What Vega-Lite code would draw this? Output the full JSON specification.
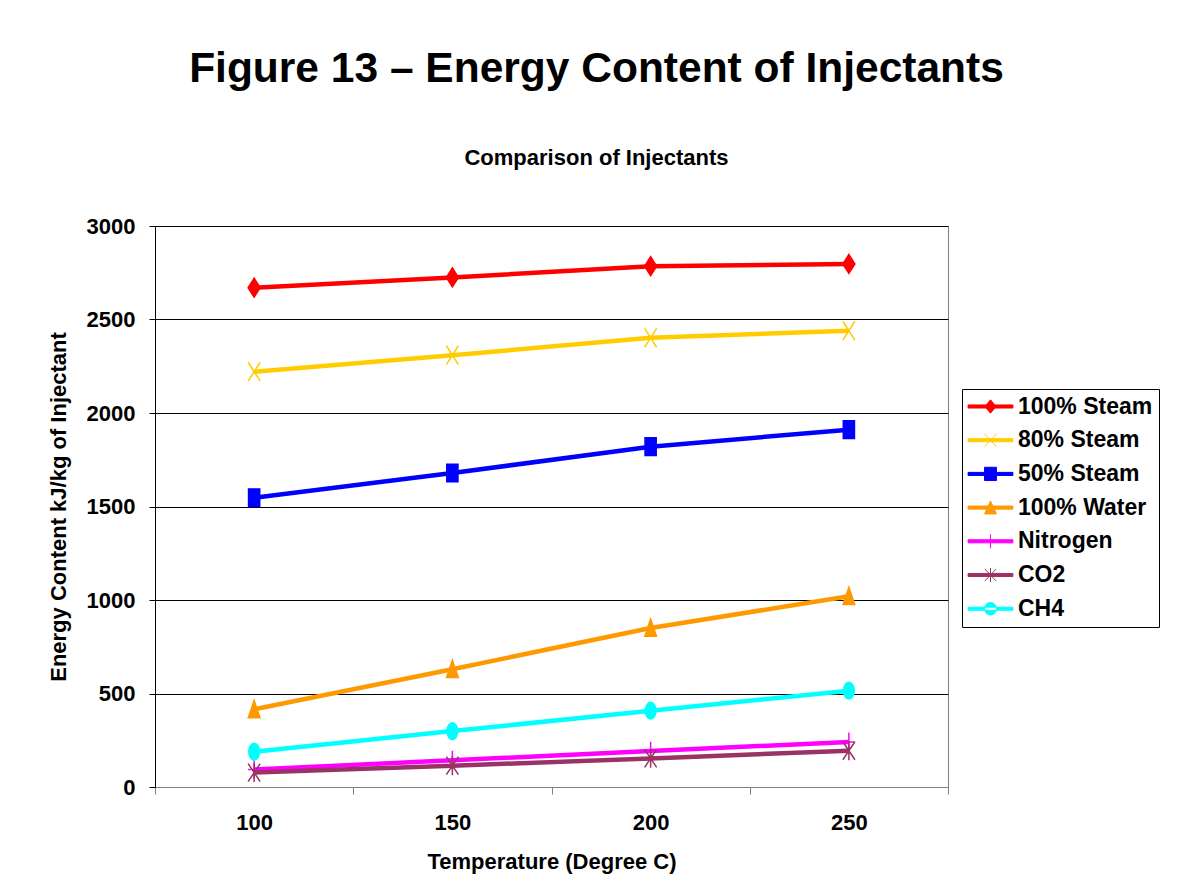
{
  "$schema": "https://vega.github.io/schema/vega-lite/v6.json",
  "width": 793,
  "height": 561,
  "autosize": {"type": "none"},
  "padding": {"left": 155, "top": 226, "right": 230, "bottom": 109},
  "background": "white",
  "title": {
    "text": "Figure 13 – Energy Content of Injectants",
    "subtitle": "Comparison of Injectants",
    "anchor": "middle",
    "frame": "group",
    "dx": 45,
    "offset": 46,
    "subtitlePadding": 58,
    "font": "Liberation Sans",
    "fontSize": 42.5,
    "fontWeight": "bold",
    "color": "black",
    "subtitleFont": "Liberation Sans",
    "subtitleFontSize": 22,
    "subtitleFontWeight": "bold",
    "subtitleColor": "black"
  },
  "config": {
    "view": {"stroke": "#808080", "strokeWidth": 1},
    "font": "Liberation Sans",
    "axis": {
      "labelFont": "Liberation Sans",
      "labelFontSize": 22,
      "labelFontWeight": "bold",
      "labelColor": "black",
      "titleFont": "Liberation Sans",
      "titleFontSize": 22,
      "titleFontWeight": "bold",
      "titleColor": "black"
    }
  },
  "data": {
    "values": [
      {"temp": 100, "series": "100% Steam", "value": 2670},
      {"temp": 150, "series": "100% Steam", "value": 2725},
      {"temp": 200, "series": "100% Steam", "value": 2785},
      {"temp": 250, "series": "100% Steam", "value": 2797},
      {"temp": 100, "series": "80% Steam", "value": 2221},
      {"temp": 150, "series": "80% Steam", "value": 2309},
      {"temp": 200, "series": "80% Steam", "value": 2402},
      {"temp": 250, "series": "80% Steam", "value": 2440},
      {"temp": 100, "series": "50% Steam", "value": 1547},
      {"temp": 150, "series": "50% Steam", "value": 1679},
      {"temp": 200, "series": "50% Steam", "value": 1820},
      {"temp": 250, "series": "50% Steam", "value": 1911},
      {"temp": 100, "series": "100% Water", "value": 415},
      {"temp": 150, "series": "100% Water", "value": 630},
      {"temp": 200, "series": "100% Water", "value": 850},
      {"temp": 250, "series": "100% Water", "value": 1020},
      {"temp": 100, "series": "Nitrogen", "value": 93},
      {"temp": 150, "series": "Nitrogen", "value": 143},
      {"temp": 200, "series": "Nitrogen", "value": 192},
      {"temp": 250, "series": "Nitrogen", "value": 241},
      {"temp": 100, "series": "CO2", "value": 77},
      {"temp": 150, "series": "CO2", "value": 114},
      {"temp": 200, "series": "CO2", "value": 153},
      {"temp": 250, "series": "CO2", "value": 194},
      {"temp": 100, "series": "CH4", "value": 189},
      {"temp": 150, "series": "CH4", "value": 299},
      {"temp": 200, "series": "CH4", "value": 408},
      {"temp": 250, "series": "CH4", "value": 515}
    ]
  },
  "encoding": {
    "x": {
      "field": "temp",
      "type": "ordinal",
      "title": "Temperature (Degree C)",
      "scale": {"type": "band", "paddingInner": 0, "paddingOuter": 0},
      "axis": {
        "labelAngle": 0,
        "tickBand": "extent",
        "tickSize": 7,
        "tickColor": "#808080",
        "domainColor": "#808080",
        "labelPadding": 18,
        "titlePadding": 18,
        "grid": false
      }
    },
    "y": {
      "field": "value",
      "type": "quantitative",
      "title": "Energy Content kJ/kg of Injectant",
      "scale": {"domain": [0, 3000], "nice": false},
      "axis": {
        "values": [0, 500, 1000, 1500, 2000, 2500, 3000],
        "format": "d",
        "tickSize": 6,
        "tickColor": "black",
        "domainColor": "black",
        "gridColor": "black",
        "gridOpacity": 1,
        "labelPadding": 14,
        "titlePadding": 16
      }
    },
    "color": {
      "field": "series",
      "type": "nominal",
      "scale": {
        "domain": ["100% Steam", "80% Steam", "50% Steam", "100% Water", "Nitrogen", "CO2", "CH4"],
        "range": ["#FF0000", "#FFCC00", "#0000FF", "#FF9900", "#FF00FF", "#993366", "#00FFFF"]
      },
      "legend": {
        "title": null,
        "orient": "none",
        "legendX": 807,
        "legendY": 163,
        "direction": "vertical",
        "strokeColor": "black",
        "fillColor": "white",
        "padding": 6,
        "symbolSize": 196,
        "symbolStrokeWidth": 1,
        "symbolOffset": 11,
        "labelOffset": 16,
        "labelFont": "Liberation Sans",
        "labelFontSize": 23,
        "labelFontWeight": "bold",
        "labelColor": "black",
        "rowPadding": 9.7,
        "labelLimit": 300,
        "encode": {
          "symbols": {
            "update": {
              "shape": {"signal": "'M-3.2,-0.22H3.2V0.22H-3.2Z' + (datum.value === '100% Steam' ? 'M0,-0.95L0.8,0L0,0.95L-0.8,0Z' : datum.value === '80% Steam' ? 'M-0.85,-0.9L0.85,0.9M0.85,-0.9L-0.85,0.9' : datum.value === '50% Steam' ? 'M-0.85,-0.95H0.85V0.95H-0.85Z' : datum.value === '100% Water' ? 'M0,-0.95L0.85,0.9H-0.85Z' : datum.value === 'Nitrogen' ? 'M0,-1V1' : datum.value === 'CO2' ? 'M-0.8,-0.85L0.8,0.85M0.8,-0.85L-0.8,0.85M0,-1V1' : 'M-0.85,0A0.85,0.9 0 1,0 0.85,0A0.85,0.9 0 1,0 -0.85,0Z')"},
              "fill": {"scale": "color", "field": "value"},
              "stroke": {"scale": "color", "field": "value"},
              "strokeWidth": {"value": 1},
              "opacity": {"value": 1}
            }
          }
        }
      }
    }
  },
  "layer": [
    {
      "mark": {"type": "line", "strokeWidth": 4.5},
      "encoding": {
        "detail": {"field": "series"}
      }
    },
    {
      "mark": {
        "type": "point",
        "filled": true,
        "opacity": 1,
        "size": 324,
        "strokeWidth": 1.5,
        "stroke": {"expr": "scale('color', datum.series)"},
        "shape": {"expr": "datum.series === '100% Steam' ? 'M0,-1.05L0.67,0L0,1.05L-0.67,0Z' : datum.series === '80% Steam' ? 'M-0.67,-1.05L0.67,1.05M0.67,-1.05L-0.67,1.05' : datum.series === '50% Steam' ? 'M-0.62,-0.98H0.62V0.98H-0.62Z' : datum.series === '100% Water' ? 'M0,-1L0.65,0.92H-0.65Z' : datum.series === 'Nitrogen' ? 'M0,-1.05V1.05M-0.67,0H0.67' : datum.series === 'CO2' ? 'M-0.67,-1L0.67,1M0.67,-1L-0.67,1M0,-1.05V1.05' : 'M-0.6,0A0.6,0.93 0 1,0 0.6,0A0.6,0.93 0 1,0 -0.6,0Z'"}
      }
    }
  ]
}
